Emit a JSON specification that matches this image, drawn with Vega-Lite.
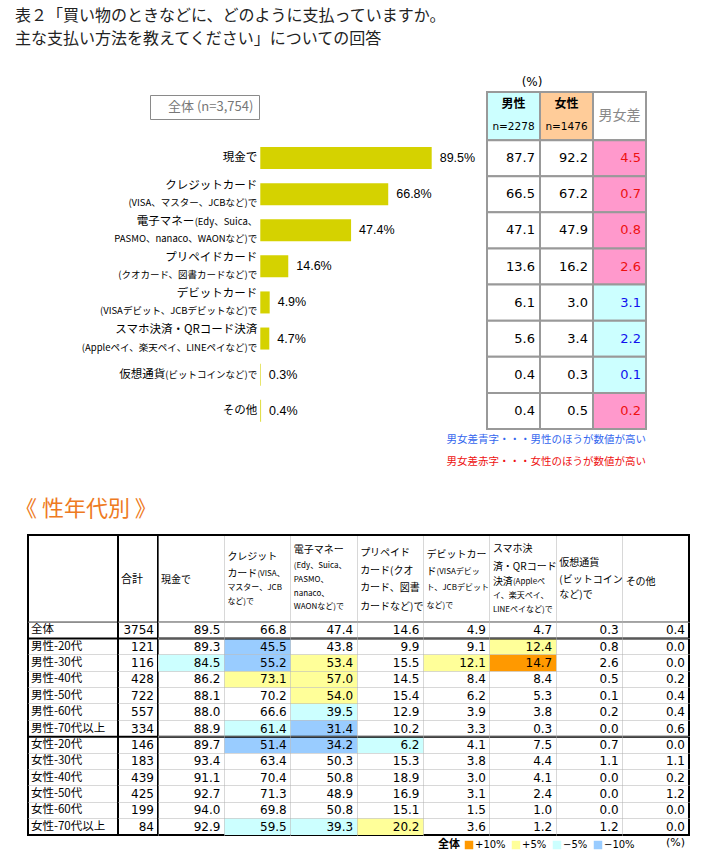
{
  "$schema": "https://vega.github.io/schema/vega-lite/v6.json",
  "background": "white",
  "padding": {"left": 14, "top": 8, "right": 8, "bottom": 4},
  "title": {
    "text": ["表２「買い物のときなどに、どのように支払っていますか。", "主な支払い方法を教えてください」についての回答"],
    "anchor": "start", "frame": "group", "dx": -13, "fontSize": 16, "lineHeight": 23,
    "color": "#222222", "offset": 25, "font": "Noto Sans CJK JP", "fontWeight": "normal"
  },
  "spacing": 30,
  "resolve": {"scale": {"fill": "independent", "color": "independent"}},
  "config": {
    "view": {"stroke": null},
    "font": "Noto Sans CJK JP",
    "text": {"font": "Noto Sans CJK JP", "color": "black", "baseline": "middle"},
    "title": {"font": "Noto Sans CJK JP", "fontWeight": "normal"}
  },
  "datasets": {
    "top": [
      {"series": "全体 (n=3,754)", "cat": "現金で", "main": "現金で", "ms": "", "sub": "", "total": 89.5, "label": "89.5%", "male": 87.7, "female": 92.2, "diff": 4.5, "higher": "女性"},
      {"series": "全体 (n=3,754)", "cat": "クレジットカード", "main": "クレジットカード", "ms": "", "sub": "(VISA、マスター、JCBなど)で", "total": 66.8, "label": "66.8%", "male": 66.5, "female": 67.2, "diff": 0.7, "higher": "女性"},
      {"series": "全体 (n=3,754)", "cat": "電子マネー", "main": "電子マネー", "ms": "(Edy、Suica、", "sub": "PASMO、nanaco、WAONなど)で", "total": 47.4, "label": "47.4%", "male": 47.1, "female": 47.9, "diff": 0.8, "higher": "女性"},
      {"series": "全体 (n=3,754)", "cat": "プリペイドカード", "main": "プリペイドカード", "ms": "", "sub": "(クオカード、図書カードなど)で", "total": 14.6, "label": "14.6%", "male": 13.6, "female": 16.2, "diff": 2.6, "higher": "女性"},
      {"series": "全体 (n=3,754)", "cat": "デビットカード", "main": "デビットカード", "ms": "", "sub": "(VISAデビット、JCBデビットなど)で", "total": 4.9, "label": "4.9%", "male": 6.1, "female": 3.0, "diff": 3.1, "higher": "男性"},
      {"series": "全体 (n=3,754)", "cat": "スマホ決済・QRコード決済", "main": "スマホ決済・QRコード決済", "ms": "", "sub": "(Appleペイ、楽天ペイ、LINEペイなど)で", "total": 4.7, "label": "4.7%", "male": 5.6, "female": 3.4, "diff": 2.2, "higher": "男性"},
      {"series": "全体 (n=3,754)", "cat": "仮想通貨", "main": "仮想通貨", "ms": "(ビットコインなど)で", "sub": "", "total": 0.3, "label": "0.3%", "male": 0.4, "female": 0.3, "diff": 0.1, "higher": "男性"},
      {"series": "全体 (n=3,754)", "cat": "その他", "main": "その他", "ms": "", "sub": "", "total": 0.4, "label": "0.4%", "male": 0.4, "female": 0.5, "diff": 0.2, "higher": "女性"}
    ],
    "hdrTop": [
      {"col": "male", "l1": "男性", "l2": "n=2278", "l3": ""},
      {"col": "female", "l1": "女性", "l2": "n=1476", "l3": ""},
      {"col": "diff", "l1": "", "l2": "", "l3": "男女差"}
    ],
    "hdr": [
      {"col": "cash", "ln": 3.1, "t": "現金で", "sz": "L"},
      {"col": "credit", "ln": 1.5, "t": "クレジット", "sz": "L"},
      {"col": "credit", "ln": 2.69, "t": "カード", "sz": "L"},
      {"col": "credit", "ln": 2.69, "t": "(VISA、", "sz": "MS"},
      {"col": "credit", "ln": 3.68, "t": "マスター、JCB", "sz": "S"},
      {"col": "credit", "ln": 4.6, "t": "など)で", "sz": "S"},
      {"col": "emoney", "ln": 1.03, "t": "電子マネー", "sz": "L"},
      {"col": "emoney", "ln": 2.14, "t": "(Edy、Suica、", "sz": "S"},
      {"col": "emoney", "ln": 3.1, "t": "PASMO、", "sz": "S"},
      {"col": "emoney", "ln": 4.07, "t": "nanaco、", "sz": "S"},
      {"col": "emoney", "ln": 4.99, "t": "WAONなど)で", "sz": "S"},
      {"col": "prepaid", "ln": 1.26, "t": "プリペイド", "sz": "L"},
      {"col": "prepaid", "ln": 2.48, "t": "カード(クオ", "sz": "L"},
      {"col": "prepaid", "ln": 3.68, "t": "カード、図書", "sz": "L"},
      {"col": "prepaid", "ln": 4.94, "t": "カードなど)で", "sz": "L"},
      {"col": "debit", "ln": 1.38, "t": "デビットカー", "sz": "L"},
      {"col": "debit", "ln": 2.53, "t": "ド", "sz": "L"},
      {"col": "debit", "ln": 2.53, "t": "(VISAデビッ", "sz": "MS"},
      {"col": "debit", "ln": 3.68, "t": "ト、JCBデビット", "sz": "S"},
      {"col": "debit", "ln": 4.9, "t": "など)で", "sz": "S"},
      {"col": "qr", "ln": 0.99, "t": "スマホ決", "sz": "L"},
      {"col": "qr", "ln": 2.19, "t": "済・QRコード", "sz": "L"},
      {"col": "qr", "ln": 3.22, "t": "決済", "sz": "L"},
      {"col": "qr", "ln": 3.22, "t": "(Appleペ", "sz": "MS"},
      {"col": "qr", "ln": 4.21, "t": "イ、楽天ペイ、", "sz": "S"},
      {"col": "qr", "ln": 5.17, "t": "LINEペイなど)で", "sz": "S"},
      {"col": "crypto", "ln": 1.91, "t": "仮想通貨", "sz": "L"},
      {"col": "crypto", "ln": 3.1, "t": "(ビットコイン", "sz": "L"},
      {"col": "crypto", "ln": 4.14, "t": "など)で", "sz": "L"},
      {"col": "other", "ln": 3.22, "t": "その他", "sz": "L"}
    ],
    "tbl": [
      {"row": "全体", "total": 3754, "cash": 89.5, "credit": 66.8, "emoney": 47.4, "prepaid": 14.6, "debit": 4.9, "qr": 4.7, "crypto": 0.3, "other": 0.4},
      {"row": "男性-20代", "total": 121, "cash": 89.3, "credit": 45.5, "emoney": 43.8, "prepaid": 9.9, "debit": 9.1, "qr": 12.4, "crypto": 0.8, "other": 0.0},
      {"row": "男性-30代", "total": 116, "cash": 84.5, "credit": 55.2, "emoney": 53.4, "prepaid": 15.5, "debit": 12.1, "qr": 14.7, "crypto": 2.6, "other": 0.0},
      {"row": "男性-40代", "total": 428, "cash": 86.2, "credit": 73.1, "emoney": 57.0, "prepaid": 14.5, "debit": 8.4, "qr": 8.4, "crypto": 0.5, "other": 0.2},
      {"row": "男性-50代", "total": 722, "cash": 88.1, "credit": 70.2, "emoney": 54.0, "prepaid": 15.4, "debit": 6.2, "qr": 5.3, "crypto": 0.1, "other": 0.4},
      {"row": "男性-60代", "total": 557, "cash": 88.0, "credit": 66.6, "emoney": 39.5, "prepaid": 12.9, "debit": 3.9, "qr": 3.8, "crypto": 0.2, "other": 0.4},
      {"row": "男性-70代以上", "total": 334, "cash": 88.9, "credit": 61.4, "emoney": 31.4, "prepaid": 10.2, "debit": 3.3, "qr": 0.3, "crypto": 0.0, "other": 0.6},
      {"row": "女性-20代", "total": 146, "cash": 89.7, "credit": 51.4, "emoney": 34.2, "prepaid": 6.2, "debit": 4.1, "qr": 7.5, "crypto": 0.7, "other": 0.0},
      {"row": "女性-30代", "total": 183, "cash": 93.4, "credit": 63.4, "emoney": 50.3, "prepaid": 15.3, "debit": 3.8, "qr": 4.4, "crypto": 1.1, "other": 1.1},
      {"row": "女性-40代", "total": 439, "cash": 91.1, "credit": 70.4, "emoney": 50.8, "prepaid": 18.9, "debit": 3.0, "qr": 4.1, "crypto": 0.0, "other": 0.2},
      {"row": "女性-50代", "total": 425, "cash": 92.7, "credit": 71.3, "emoney": 48.9, "prepaid": 16.9, "debit": 3.1, "qr": 2.4, "crypto": 0.0, "other": 1.2},
      {"row": "女性-60代", "total": 199, "cash": 94.0, "credit": 69.8, "emoney": 50.8, "prepaid": 15.1, "debit": 1.5, "qr": 1.0, "crypto": 0.0, "other": 0.0},
      {"row": "女性-70代以上", "total": 84, "cash": 92.9, "credit": 59.5, "emoney": 39.3, "prepaid": 20.2, "debit": 3.6, "qr": 1.2, "crypto": 1.2, "other": 0.0}
    ],
    "hl": [
      {"row": "男性-20代", "col": "credit", "lv": "−10%"},
      {"row": "男性-20代", "col": "qr", "lv": "+5%"},
      {"row": "男性-30代", "col": "cash", "lv": "−5%"},
      {"row": "男性-30代", "col": "credit", "lv": "−10%"},
      {"row": "男性-30代", "col": "emoney", "lv": "+5%"},
      {"row": "男性-30代", "col": "debit", "lv": "+5%"},
      {"row": "男性-30代", "col": "qr", "lv": "+10%"},
      {"row": "男性-40代", "col": "credit", "lv": "+5%"},
      {"row": "男性-40代", "col": "emoney", "lv": "+5%"},
      {"row": "男性-50代", "col": "emoney", "lv": "+5%"},
      {"row": "男性-60代", "col": "emoney", "lv": "−5%"},
      {"row": "男性-70代以上", "col": "credit", "lv": "−5%"},
      {"row": "男性-70代以上", "col": "emoney", "lv": "−10%"},
      {"row": "女性-20代", "col": "credit", "lv": "−10%"},
      {"row": "女性-20代", "col": "emoney", "lv": "−10%"},
      {"row": "女性-20代", "col": "prepaid", "lv": "−5%"},
      {"row": "女性-70代以上", "col": "credit", "lv": "−5%"},
      {"row": "女性-70代以上", "col": "emoney", "lv": "−5%"},
      {"row": "女性-70代以上", "col": "prepaid", "lv": "+5%"}
    ]
  },
  "vconcat": [
    {
      "hconcat": [
        {
          "width": 451, "height": 357,
          "data": {"name": "top"},
          "encoding": {
            "y": {"field": "cat", "type": "nominal", "axis": null,
                  "scale": {"type": "band", "domain": ["_", "現金で", "クレジットカード", "電子マネー", "プリペイドカード", "デビットカード", "スマホ決済・QRコード決済", "仮想通貨", "その他"], "paddingInner": 0.39, "paddingOuter": 0.64, "align": 0.843}}
          },
          "layer": [
            {"mark": {"type": "bar"},
             "encoding": {
               "x": {"field": "total", "type": "quantitative", "scale": {"domain": [-121.3, 114.2], "nice": false}, "axis": null},
               "color": {"field": "series", "type": "nominal", "scale": {"range": ["#d5d200"]},
                         "legend": {"orient": "none", "legendX": 122, "legendY": 23, "title": null, "symbolSize": 0, "symbolOpacity": 0, "symbolStrokeWidth": 0,
                                    "labelFontSize": 13, "labelColor": "#777777", "labelFont": "Noto Sans CJK JP", "labelOffset": 0,
                                    "labelExpr": "' ' + datum.label + ' '", "strokeColor": "#8a8a8a", "padding": 5, "fillColor": "white"}}}},
            {"mark": {"type": "text", "align": "left", "dx": 8, "fontSize": 12.5, "font": "Liberation Sans"},
             "encoding": {"x": {"field": "total", "type": "quantitative"}, "text": {"field": "label"}}},
            {"transform": [{"filter": "datum.sub == '' && datum.ms == ''"}],
             "mark": {"type": "text", "align": "right", "dx": -3, "fontSize": 11.5},
             "encoding": {"x": {"datum": 0, "type": "quantitative"}, "text": {"field": "main"}}},
            {"transform": [{"filter": "datum.sub != '' && datum.ms == ''"}],
             "mark": {"type": "text", "align": "right", "dx": -3, "dy": -8.5, "fontSize": 11.5},
             "encoding": {"x": {"datum": 0, "type": "quantitative"}, "text": {"field": "main"}}},
            {"transform": [{"filter": "datum.sub != '' && datum.ms != ''"}],
             "mark": {"type": "text", "align": "right", "dx": -66, "dy": -8.5, "fontSize": 11.5},
             "encoding": {"x": {"datum": 0, "type": "quantitative"}, "text": {"field": "main"}}},
            {"transform": [{"filter": "datum.sub != '' && datum.ms != ''"}],
             "mark": {"type": "text", "align": "right", "dx": -3, "dy": -8.5, "fontSize": 9.5},
             "encoding": {"x": {"datum": 0, "type": "quantitative"}, "text": {"field": "ms"}}},
            {"transform": [{"filter": "datum.sub == '' && datum.ms != ''"}],
             "mark": {"type": "text", "align": "right", "dx": -95, "fontSize": 11.5},
             "encoding": {"x": {"datum": 0, "type": "quantitative"}, "text": {"field": "main"}}},
            {"transform": [{"filter": "datum.sub == '' && datum.ms != ''"}],
             "mark": {"type": "text", "align": "right", "dx": -3, "fontSize": 9.5},
             "encoding": {"x": {"datum": 0, "type": "quantitative"}, "text": {"field": "ms"}}},
            {"transform": [{"filter": "datum.sub != ''"}],
             "mark": {"type": "text", "align": "right", "dx": -3, "dy": 9, "fontSize": 9.5},
             "encoding": {"x": {"datum": 0, "type": "quantitative"}, "text": {"field": "sub"}}}
          ]
        },
        {
          "width": 159, "height": 357,
          "data": {"name": "top"},
          "resolve": {"scale": {"y": "independent", "fill": "independent", "color": "independent"}},
          "title": {
            "text": "男女差青字・・・男性のほうが数値が高い",
            "subtitle": "男女差赤字・・・女性のほうが数値が高い",
            "orient": "bottom", "anchor": "end", "frame": "group", "offset": 5,
            "fontSize": 10.5, "subtitleFontSize": 10.5, "color": "#3366ee", "subtitleColor": "#ee1111",
            "subtitlePadding": 11, "font": "Noto Sans CJK JP", "subtitleFont": "Noto Sans CJK JP", "fontWeight": "normal"
          },
          "encoding": {
            "x": {"field": "col", "type": "nominal", "scale": {"domain": ["male", "female", "diff"], "paddingInner": 0, "paddingOuter": 0}, "axis": null}
          },
          "layer": [
            {"data": {"name": "hdrTop"},
             "mark": {"type": "rect", "stroke": "#999999", "strokeWidth": 2},
             "encoding": {
               "y": {"datum": 2.0, "type": "quantitative", "scale": {"domain": [0, 35.7], "reverse": true, "nice": false, "zero": false}, "axis": null},
               "y2": {"datum": 6.82},
               "fill": {"field": "col", "type": "nominal", "scale": {"domain": ["male", "female", "diff"], "range": ["#ccffff", "#ffcc99", "#ffffff"]}, "legend": null}}},
            {"data": {"name": "hdrTop"},
             "mark": {"type": "text", "fontSize": 12, "fontWeight": "bold"},
             "encoding": {"y": {"datum": 3.2, "type": "quantitative", "scale": {"domain": [0, 35.7], "reverse": true, "nice": false, "zero": false}, "axis": null}, "text": {"field": "l1"}}},
            {"data": {"name": "hdrTop"},
             "mark": {"type": "text", "fontSize": 10.5, "font": "DejaVu Sans"},
             "encoding": {"y": {"datum": 5.5, "type": "quantitative", "scale": {"domain": [0, 35.7], "reverse": true, "nice": false, "zero": false}, "axis": null}, "text": {"field": "l2"}}},
            {"data": {"name": "hdrTop"},
             "mark": {"type": "text", "fontSize": 14, "color": "#888888"},
             "encoding": {"y": {"datum": 4.4, "type": "quantitative", "scale": {"domain": [0, 35.7], "reverse": true, "nice": false, "zero": false}, "axis": null}, "text": {"field": "l3"}}},
            {"data": {"name": "hdrTop"},
             "transform": [{"filter": "datum.col == 'male'"}],
             "mark": {"type": "text", "fontSize": 12, "font": "DejaVu Sans"},
             "encoding": {"x": {"field": "col", "type": "nominal", "bandPosition": 0.85}, "y": {"datum": 1.0, "type": "quantitative", "scale": {"domain": [0, 35.7], "reverse": true, "nice": false, "zero": false}, "axis": null}, "text": {"value": "(%)"}}},
            {"transform": [{"fold": ["male", "female", "diff"], "as": ["col", "val"]}],
             "layer": [
               {"mark": {"type": "rect", "fill": "white", "stroke": "#999999", "strokeWidth": 2}},
               {"transform": [{"filter": "datum.col == 'diff'"}],
                "mark": {"type": "rect", "stroke": "#999999", "strokeWidth": 2},
                "encoding": {"fill": {"field": "higher", "type": "nominal", "scale": {"domain": ["女性", "男性"], "range": ["#ff99cc", "#ccffff"]}, "legend": null}}},
               {"transform": [{"filter": "datum.col != 'diff'"}],
                "mark": {"type": "text", "align": "right", "dx": -5, "fontSize": 13, "font": "DejaVu Sans"},
                "encoding": {"x": {"field": "col", "type": "nominal", "bandPosition": 1}, "text": {"field": "val", "format": ".1f"}}},
               {"transform": [{"filter": "datum.col == 'diff'"}],
                "mark": {"type": "text", "align": "right", "dx": -5, "fontSize": 13, "font": "DejaVu Sans"},
                "encoding": {
                  "x": {"field": "col", "type": "nominal", "bandPosition": 1},
                  "text": {"field": "val", "format": ".1f"},
                  "color": {"field": "higher", "type": "nominal", "scale": {"domain": ["女性", "男性"], "range": ["#ee1111", "#1111ee"]}, "legend": null}}}
             ],
             "encoding": {
               "y": {"field": "cat", "type": "nominal", "axis": null,
                     "scale": {"type": "band", "domain": ["現金で", "クレジットカード", "電子マネー", "プリペイドカード", "デビットカード", "スマホ決済・QRコード決済", "仮想通貨", "その他"], "paddingInner": 0, "paddingOuter": 0.944, "align": 1}}
             }}
          ]
        }
      ],
      "spacing": 8,
      "bounds": "flush",
      "resolve": {"scale": {"fill": "independent", "color": "independent"}}
    },
    {
      "hconcat": [
        {
          "width": 90, "height": 300,
          "view": {"stroke": "black", "strokeWidth": 2},
          "title": {"text": "《 性年代別 》", "anchor": "start", "frame": "group", "dx": -13, "offset": 14, "fontSize": 22, "color": "#ee7a22", "fontWeight": "normal", "font": "Noto Sans CJK JP"},
          "data": {"name": "tbl"},
          "encoding": {
            "y": {"field": "row", "type": "nominal",
                  "scale": {"type": "band", "domain": ["h1", "h2", "h3", "h4", "全体", "男性-20代", "男性-30代", "男性-40代", "男性-50代", "男性-60代", "男性-70代以上", "女性-20代", "女性-30代", "女性-40代", "女性-50代", "女性-60代", "女性-70代以上"], "paddingInner": 0, "paddingOuter": 0.655, "align": 1},
                  "axis": {"orient": "left", "labels": false, "ticks": false, "domain": false, "title": null, "grid": true, "gridDash": [1, 1], "gridColor": "#b0b0b0", "bandPosition": 0,
                           "values": ["全体", "男性-20代", "男性-30代", "男性-40代", "男性-50代", "男性-60代", "男性-70代以上", "女性-20代", "女性-30代", "女性-40代", "女性-50代", "女性-60代", "女性-70代以上"]}}
          },
          "layer": [
            {"transform": [{"filter": {"field": "row", "oneOf": ["全体", "男性-70代以上"]}}],
             "mark": {"type": "rule", "color": "black", "strokeWidth": 2},
             "encoding": {"y": {"field": "row", "type": "nominal", "bandPosition": 1}}},
            {"transform": [{"filter": {"field": "row", "equal": "全体"}}],
             "mark": {"type": "rule", "color": "#444444", "strokeWidth": 1},
             "encoding": {"y": {"field": "row", "type": "nominal", "bandPosition": 0}}},
            {"mark": {"type": "text", "align": "left", "dx": 3, "fontSize": 11.5},
             "encoding": {"x": {"datum": 0, "type": "quantitative", "scale": {"domain": [0, 1]}, "axis": null},
                          "text": {"field": "row"}}}
          ]
        },
        {
          "width": 40, "height": 300,
          "view": {"stroke": "black", "strokeWidth": 2},
          "data": {"name": "tbl"},
          "resolve": {"scale": {"y": "independent"}},
          "layer": [
            {"encoding": {
               "y": {"field": "row", "type": "nominal",
                     "scale": {"type": "band", "domain": ["h1", "h2", "h3", "h4", "全体", "男性-20代", "男性-30代", "男性-40代", "男性-50代", "男性-60代", "男性-70代以上", "女性-20代", "女性-30代", "女性-40代", "女性-50代", "女性-60代", "女性-70代以上"], "paddingInner": 0, "paddingOuter": 0.655, "align": 1},
                     "axis": {"orient": "left", "labels": false, "ticks": false, "domain": false, "title": null, "grid": true, "gridDash": [1, 1], "gridColor": "#b0b0b0", "bandPosition": 0,
                              "values": ["全体", "男性-20代", "男性-30代", "男性-40代", "男性-50代", "男性-60代", "男性-70代以上", "女性-20代", "女性-30代", "女性-40代", "女性-50代", "女性-60代", "女性-70代以上"]}}},
             "layer": [
              {"transform": [{"filter": {"field": "row", "oneOf": ["全体", "男性-70代以上"]}}],
               "mark": {"type": "rule", "color": "black", "strokeWidth": 2},
               "encoding": {"y": {"field": "row", "type": "nominal", "bandPosition": 1}}},
              {"transform": [{"filter": {"field": "row", "equal": "全体"}}],
               "mark": {"type": "rule", "color": "#444444", "strokeWidth": 1},
               "encoding": {"y": {"field": "row", "type": "nominal", "bandPosition": 0}}},
              {"mark": {"type": "text", "align": "right", "dx": -4, "fontSize": 12, "font": "DejaVu Sans"},
               "encoding": {"x": {"datum": 1, "type": "quantitative", "scale": {"domain": [0, 1]}, "axis": null},
                            "text": {"field": "total"}}}
            ]},
            {"data": {"values": [{"t": "合計"}]},
             "mark": {"type": "text", "align": "left", "dx": 3, "fontSize": 11},
             "encoding": {
               "x": {"datum": 0, "type": "quantitative"},
               "y": {"datum": 3.1, "type": "quantitative", "scale": {"domain": [0, 20.69], "reverse": true, "nice": false, "zero": false}, "axis": null},
               "text": {"field": "t"}}}
          ]
        },
        {
          "width": 531, "height": 300,
          "view": {"stroke": "black", "strokeWidth": 2},
          "data": {"name": "tbl"},
          "resolve": {"scale": {"y": "independent"}},
          "title": {"text": "(%)", "orient": "bottom", "anchor": "end", "frame": "group", "offset": 5, "dx": -4, "dy": -18, "fontSize": 11, "font": "DejaVu Sans", "fontWeight": "normal", "color": "black"},
          "encoding": {
            "x": {"field": "col", "type": "nominal",
                  "scale": {"domain": ["cash", "credit", "emoney", "prepaid", "debit", "qr", "crypto", "other"], "paddingInner": 0, "paddingOuter": 0},
                  "axis": {"orient": "bottom", "labels": false, "ticks": false, "domain": false, "title": null, "grid": true, "gridDash": [1, 1], "gridColor": "#b0b0b0", "bandPosition": 0}}
          },
          "layer": [
            {"encoding": {
               "y": {"field": "row", "type": "nominal",
                     "scale": {"type": "band", "domain": ["h1", "h2", "h3", "h4", "全体", "男性-20代", "男性-30代", "男性-40代", "男性-50代", "男性-60代", "男性-70代以上", "女性-20代", "女性-30代", "女性-40代", "女性-50代", "女性-60代", "女性-70代以上"], "paddingInner": 0, "paddingOuter": 0.655, "align": 1},
                     "axis": {"orient": "left", "labels": false, "ticks": false, "domain": false, "title": null, "grid": true, "gridDash": [1, 1], "gridColor": "#b0b0b0", "bandPosition": 0,
                              "values": ["全体", "男性-20代", "男性-30代", "男性-40代", "男性-50代", "男性-60代", "男性-70代以上", "女性-20代", "女性-30代", "女性-40代", "女性-50代", "女性-60代", "女性-70代以上"]}}},
             "layer": [
              {"data": {"name": "hl"},
               "mark": {"type": "rect"},
               "encoding": {
                 "fill": {"field": "lv", "type": "nominal",
                          "scale": {"domain": ["+10%", "+5%", "−5%", "−10%"], "range": ["#ff9900", "#ffff99", "#ccffff", "#99ccff"]},
                          "legend": {"orient": "none", "legendX": 280, "legendY": 305, "direction": "horizontal", "title": "全体", "titleOrient": "left",
                                     "symbolType": "square", "symbolSize": 72, "symbolStrokeWidth": 0, "labelFont": "DejaVu Sans", "labelFontSize": 10,
                                     "titleFont": "Noto Sans CJK JP", "titleFontSize": 11, "titleFontWeight": "bold", "labelOffset": 1, "columnPadding": 5,
                                     "gridAlign": "none", "titlePadding": 4, "padding": 0}}}},
              {"transform": [{"filter": {"field": "row", "oneOf": ["全体", "男性-70代以上"]}}],
               "mark": {"type": "rule", "color": "black", "strokeWidth": 2},
               "encoding": {"x": null, "y": {"field": "row", "type": "nominal", "bandPosition": 1}}},
              {"transform": [{"filter": {"field": "row", "equal": "全体"}}],
               "mark": {"type": "rule", "color": "#444444", "strokeWidth": 1},
               "encoding": {"x": null, "y": {"field": "row", "type": "nominal", "bandPosition": 0}}},
              {"transform": [{"fold": ["cash", "credit", "emoney", "prepaid", "debit", "qr", "crypto", "other"], "as": ["col", "v"]}],
               "mark": {"type": "text", "align": "right", "dx": -4, "fontSize": 12, "font": "DejaVu Sans"},
               "encoding": {
                 "x": {"field": "col", "type": "nominal", "bandPosition": 1},
                 "text": {"field": "v", "format": ".1f"}}}
            ]},
            {"data": {"name": "hdr"},
             "encoding": {
               "x": {"field": "col", "type": "nominal", "bandPosition": 0},
               "y": {"field": "ln", "type": "quantitative", "scale": {"domain": [0, 20.69], "reverse": true, "nice": false, "zero": false}, "axis": null},
               "text": {"field": "t"}
             },
             "layer": [
               {"transform": [{"filter": "datum.sz == 'L'"}], "mark": {"type": "text", "align": "left", "dx": 3, "fontSize": 10}},
               {"transform": [{"filter": "datum.sz == 'S'"}], "mark": {"type": "text", "align": "left", "dx": 3, "fontSize": 8}},
               {"transform": [{"filter": "datum.sz == 'MS' && datum.col == 'credit'"}], "mark": {"type": "text", "align": "left", "dx": 33, "fontSize": 8}},
               {"transform": [{"filter": "datum.sz == 'MS' && datum.col == 'debit'"}], "mark": {"type": "text", "align": "left", "dx": 13, "fontSize": 8}},
               {"transform": [{"filter": "datum.sz == 'MS' && datum.col == 'qr'"}], "mark": {"type": "text", "align": "left", "dx": 23, "fontSize": 8}}
             ]}
          ]
        }
      ],
      "spacing": 0,
      "bounds": "flush",
      "resolve": {"scale": {"fill": "independent", "color": "independent"}}
    }
  ]
}
